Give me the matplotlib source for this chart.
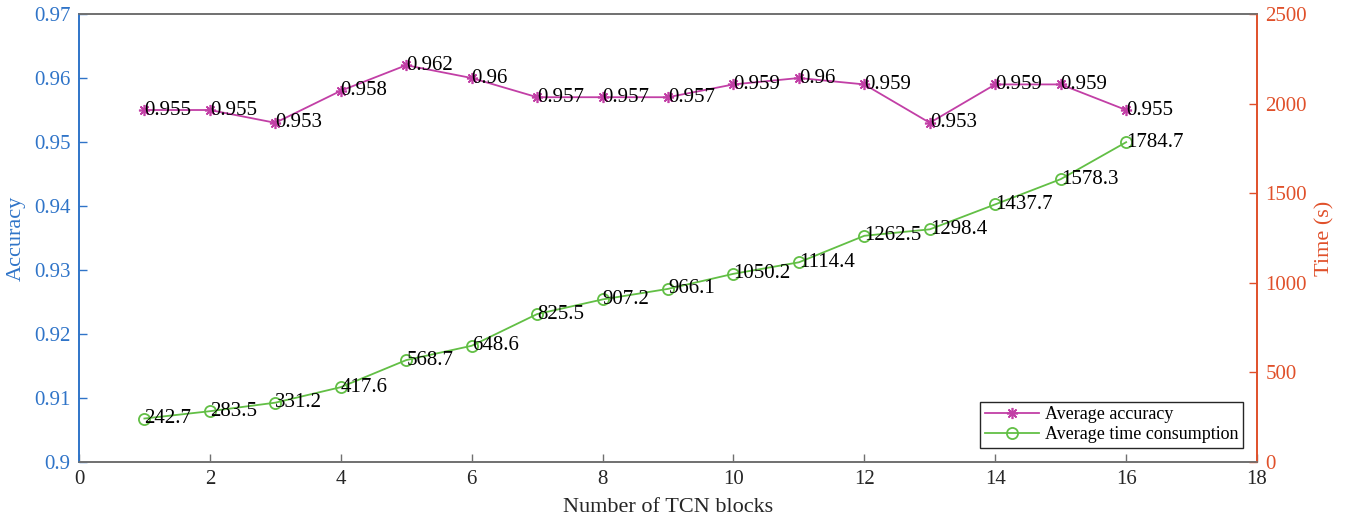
import numpy as np
import matplotlib
matplotlib.use('Agg')
import matplotlib.pyplot as plt

plt.rcParams['font.family'] = ['Liberation Serif', 'DejaVu Serif']

# results per number of TCN blocks
blocks = np.arange(1, 17)
accuracy = [0.955, 0.955, 0.953, 0.958, 0.962, 0.96, 0.957, 0.957,
            0.957, 0.959, 0.96, 0.959, 0.953, 0.959, 0.959, 0.955]
time_s = [242.7, 283.5, 331.2, 417.6, 568.7, 648.6, 825.5, 907.2,
          966.1, 1050.2, 1114.4, 1262.5, 1298.4, 1437.7, 1578.3, 1784.7]

c_left = '#2f74c8'
c_right = '#e0502a'
c_acc = '#c23fa6'
c_time = '#62bf45'
c_grey = '#707070'
fs = 15

fig = plt.figure(figsize=(13.45, 5.19), dpi=100)
ax = fig.add_axes([0.0587, 0.1098, 0.8759, 0.8632])
ax2 = ax.twinx()

l1, = ax.plot(blocks, accuracy, '-', color=c_acc, marker=(8, 2, 0), ms=8,
              mew=1.2, lw=1.3, label='Average accuracy')
l2, = ax2.plot(blocks, time_s, '-', color=c_time, marker='o', ms=8,
               mfc='none', mew=1.3, lw=1.3, label='Average time consumption')

for x, v in zip(blocks, accuracy):
    ax.text(x, v, f'{v:g}', ha='left', va='center', fontsize=fs, color='black')
for x, v in zip(blocks, time_s):
    ax2.text(x, v, f'{v:g}', ha='left', va='center', fontsize=fs, color='black')

ax.set_xlim(0, 18)
ax.set_xticks(np.arange(0, 19, 2))
ax.set_ylim(0.9, 0.97)
ax.set_yticks(np.arange(0.9, 0.9701, 0.01))
ax.set_yticklabels(['0.9', '0.91', '0.92', '0.93', '0.94', '0.95', '0.96', '0.97'])
ax2.set_ylim(0, 2500)
ax2.set_yticks(np.arange(0, 2501, 500))

ax.set_xlabel('Number of TCN blocks', fontsize=fs + 1, color='#262626', labelpad=6)
ax.set_ylabel('Accuracy', fontsize=fs + 1, color=c_left, labelpad=6)
ax2.set_ylabel('Time (s)', fontsize=fs + 1, color=c_right, labelpad=6)

for a in (ax, ax2):
    for s in a.spines.values():
        s.set_linewidth(1.2)
    a.spines['top'].set_color(c_grey)
    a.spines['bottom'].set_color(c_grey)
    a.spines['left'].set_color(c_left)
    a.spines['right'].set_color(c_right)

ax.tick_params(axis='x', direction='in', length=6, width=1, colors=c_grey,
               labelcolor='#262626', labelsize=fs, pad=6)
ax.tick_params(axis='y', direction='in', length=6, width=1, colors=c_left,
               labelsize=fs, pad=6)
ax2.tick_params(axis='y', direction='in', length=6, width=1, colors=c_right,
                labelsize=fs, pad=6)

leg = ax2.legend([l1, l2], [l1.get_label(), l2.get_label()], loc='lower right',
                 fontsize=13, frameon=True, fancybox=False, framealpha=1,
                 edgecolor='#262626', borderpad=0.25, labelspacing=0.15,
                 handlelength=3.0, handletextpad=0.3, borderaxespad=0.8)
leg.get_frame().set_linewidth(1.0)

fig.savefig('out.png', dpi=100)
